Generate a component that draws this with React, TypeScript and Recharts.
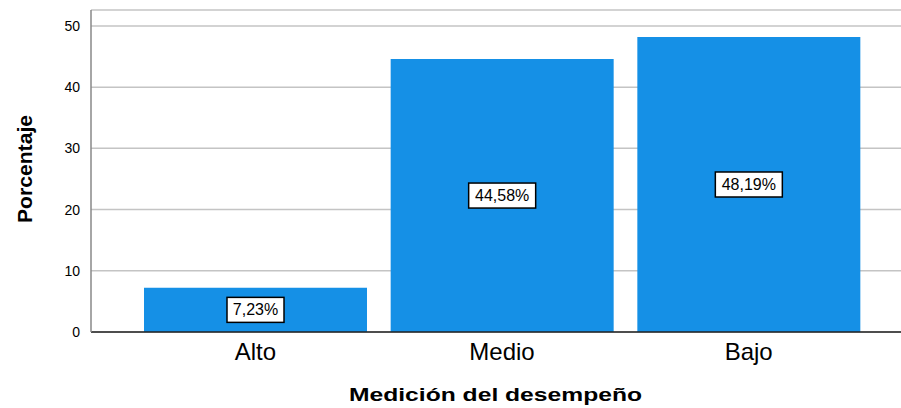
import React from "react";
import { BarChart, Bar, XAxis, YAxis, CartesianGrid, LabelList } from "recharts";

const categories = ["Alto", "Medio", "Bajo"];
const percentages = [7.23, 44.58, 48.19];
const percentLabels = ["7,23%", "44,58%", "48,19%"];
const yTicks = [0, 10, 20, 30, 40, 50];

const data = categories.map((c, i) => ({ name: c, value: percentages[i], label: percentLabels[i] }));

const BoxLabel = (props: any) => {
  const { x, y, width, height, index } = props;
  const text = percentLabels[index];
  const cx = x + width / 2;
  const cy = y + height / 2;
  const w = text.length * 10 + 7;
  const h = 25;
  return (
    <g>
      <rect x={cx - w / 2} y={cy - h / 2} width={w} height={h} fill="#ffffff" stroke="#000000" strokeWidth={1.5} />
      <text x={cx} y={cy} textAnchor="middle" dominantBaseline="central" fontSize={16} fill="#000" fontFamily="Liberation Sans, Arial, sans-serif">
        {text}
      </text>
    </g>
  );
};

const YLabel = (props: any) => {
  return (
    <text
      x={24}
      y={169}
      transform="rotate(-90, 24, 169)"
      textAnchor="middle"
      dominantBaseline="central"
      fontSize={21}
      fontWeight="bold"
      fill="#000"
      fontFamily="Liberation Sans, Arial, sans-serif"
      textLength={108}
      lengthAdjust="spacingAndGlyphs"
    >
      Porcentaje
    </text>
  );
};

const XLabel = (props: any) => {
  return (
    <text
      x={495.5}
      y={394}
      textAnchor="middle"
      dominantBaseline="central"
      fontSize={19}
      fontWeight="bold"
      fill="#000"
      fontFamily="Liberation Sans, Arial, sans-serif"
      textLength={293}
      lengthAdjust="spacingAndGlyphs"
    >
      Medición del desempeño
    </text>
  );
};

export default function App() {
  return (
    <div style={{ position: "absolute", left: 0, top: 0, width: 901, height: 408, overflow: "hidden", background: "#fff" }}>
      <BarChart
        width={913}
        height={408}
        data={data}
        margin={{ top: 10, right: 0, bottom: 0, left: 0 }}
        style={{ fontFamily: "Liberation Sans, Arial, sans-serif" }}
      >
        <CartesianGrid vertical={false} stroke="#c4c4c4" strokeWidth={1.5} />
        <XAxis
          dataKey="name"
          height={76}
          padding={{ left: 41, right: 41 }}
          tickLine={false}
          tickSize={0}
          tickMargin={11}
          axisLine={{ stroke: "#222", strokeWidth: 1.5 }}
          tick={{ fontSize: 24, fill: "#000" }}
          label={<XLabel />}
        />
        <YAxis
          width={91}
          domain={[0, 52.6]}
          ticks={yTicks}
          tickLine={false}
          tickSize={0}
          tickMargin={11}
          axisLine={{ stroke: "#888", strokeWidth: 1.5 }}
          tick={{ fontSize: 14, fill: "#000" }}
          label={<YLabel />}
        />
        <Bar dataKey="value" fill="#1590E6" barSize={223} isAnimationActive={false}>
          <LabelList dataKey="label" content={<BoxLabel />} />
        </Bar>
      </BarChart>
    </div>
  );
}
